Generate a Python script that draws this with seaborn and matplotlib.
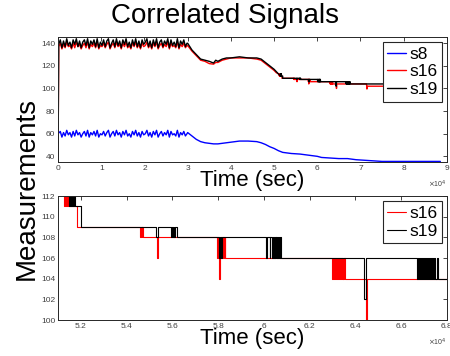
import numpy as np
import pandas as pd
import matplotlib
matplotlib.use('Agg')
import matplotlib.pyplot as plt
import seaborn as sns
from matplotlib.ticker import FuncFormatter

# --- data (time in seconds) ---
# noisy start (0 - 3e4 s)
s19_noise = [139, 143, 136, 142, 137, 144, 138, 141, 136, 143, 139, 144, 137, 142, 136, 141, 143, 138, 144, 136,
             142, 139, 143, 137, 144, 136, 141, 138, 143, 137, 142, 144, 136, 140, 143, 137, 144, 138, 142, 136,
             143, 139, 144, 137, 141, 136, 143, 138, 144, 137, 142, 136, 143, 139, 141, 144, 137, 142, 136, 143,
             138, 144, 136, 141, 143, 137, 142, 139, 144, 136, 143, 138, 141, 137, 144, 136, 142, 139, 143, 137, 140]
s16_noise = [137, 140, 135, 139, 136, 141, 137, 138, 135, 140, 136, 141, 137, 139, 135, 138, 140, 136, 141, 135,
             139, 137, 140, 136, 141, 135, 138, 137, 140, 136, 139, 141, 135, 138, 140, 136, 141, 137, 139, 135,
             140, 137, 141, 136, 138, 135, 140, 137, 141, 136, 139, 135, 140, 137, 138, 141, 136, 139, 135, 140,
             137, 141, 135, 138, 140, 136, 139, 137, 141, 135, 140, 137, 138, 136, 141, 135, 139, 137, 140, 136, 138]
s8_noise = [60, 62, 57, 61, 58, 63, 59, 61, 57, 62, 58, 63, 59, 61, 57, 60, 62, 58, 63, 57,
            61, 59, 62, 58, 63, 57, 60, 59, 62, 58, 61, 63, 57, 60, 62, 58, 63, 59, 61, 57,
            62, 59, 63, 58, 60, 57, 62, 59, 63, 58, 61, 57, 62, 59, 60, 63, 58, 61, 57, 62,
            59, 63, 57, 60, 62, 58, 61, 59, 63, 57, 62, 59, 60, 58, 63, 57, 61, 59, 62, 58, 60]

# s19 after the noisy start
s19_t = [30000, 31000, 32000, 33000, 34000, 35000, 36000, 36500, 37000, 38000, 39000,
         40000, 42000, 44000, 46000, 47000, 48000, 49000, 50000, 50500,
         51000, 51480, 51520, 51560, 51600, 51640, 51680, 51725, 51990, 52000,
         55260, 55300, 55350,
         55890, 55930, 55970, 56010, 56050, 56090, 56130, 56180,
         58010, 58050, 58090, 58120, 58160,
         60060, 60100, 60150, 60250, 60280, 60350, 60390, 60430, 60470, 60510, 60550,
         60590, 60630, 60670, 60710, 60760,
         64340, 64380, 64460,
         66660, 66700, 66740, 66780, 66820, 66860, 66900, 66950, 66990, 67030, 67080,
         67120, 67170, 67210, 67260, 67310, 67360, 67410, 67460, 67500, 67550, 67600,
         88500]
s19_v = [140, 134, 130, 126, 125, 124, 122.5, 125, 124, 126, 127,
         127, 128, 127, 127, 126, 123, 120, 117, 115,
         113, 111, 113, 111, 113, 111, 113, 111, 111, 109,
         109, 108, 109,
         109, 108, 109, 108, 109, 108, 109, 108,
         108, 106, 108, 106, 108,
         108, 106, 108, 106, 108, 106, 108, 106, 108, 106, 108,
         106, 108, 106, 108, 106,
         106, 102, 106,
         106, 104, 106, 104, 106, 104, 106, 104, 106, 104, 106,
         104, 106, 104, 106, 104, 106, 104, 106, 104, 106, 104,
         104]

# s16 after the noisy start
s16_t = [30000, 31000, 32000, 33000, 34000, 35000, 36000, 36500, 37000, 38000, 39000,
         40000, 42000, 44000, 46000, 47000, 48000, 49000, 50000, 50500,
         51000, 51260, 51300, 51340, 51380, 51420, 51830, 51840,
         54530, 54570, 54610, 54650, 54690, 54730,
         55280, 55320, 55360,
         57920, 57960, 58000, 58040, 58080, 58120, 58160, 58200, 58240, 58280, 58320,
         62960, 63000, 63040, 63080, 63120, 63160, 63200, 63240, 63280, 63320, 63360,
         63400, 63440, 63480, 63520, 63560,
         64410, 64450, 64530,
         71400, 71500, 71600, 88500]
s16_v = [138, 133, 129, 125, 124, 122, 121.5, 123, 123, 125, 126,
         127, 127, 127, 126, 125, 122, 119, 116, 114,
         113, 111, 113, 111, 113, 111, 111, 109,
         109, 108, 109, 108, 109, 108,
         108, 106, 108,
         108, 106, 108, 104, 106, 108, 106, 108, 106, 108, 106,
         106, 104, 106, 104, 106, 104, 106, 104, 106, 104, 106,
         104, 106, 104, 106, 104,
         104, 100, 104,
         104, 99.5, 102, 102]

# s8 after the noisy start
s8_t = [30000, 31000, 32000, 33000, 34000, 35000, 36000, 37000, 38000, 40000, 42000,
        44000, 46000, 47000, 48000, 49000, 50000, 51000, 52000, 54000, 56000, 58000,
        60000, 61000, 63000, 65000, 67000, 69000, 71000, 73000, 75000, 80000, 85000, 88500]
s8_v = [61, 58, 55, 53, 52, 51.5, 51, 51, 51.5, 52.5, 53.5,
        53.5, 53, 52, 50.5, 48.5, 47, 45, 43.5, 42.5, 42, 41,
        40, 39, 38.5, 38, 38, 37, 36.5, 36, 35.5, 35.5, 35.5, 35.5]

start_level = 35  # s16/s19 start from the bottom at t = 0


def build(noise, trend_t, trend_v, start=None):
    tn = np.linspace(150, 29850, len(noise))
    t = list(tn) + trend_t
    v = list(noise) + trend_v
    if start is not None:
        t = [0] + t
        v = [start] + v
    else:
        t[0] = 0
    return pd.DataFrame({'time': t, 'value': v})


df8 = build(s8_noise, s8_t, s8_v)
df16 = build(s16_noise, s16_t, s16_v, start_level)
df19 = build(s19_noise, s19_t, s19_v, start_level)

# --- figure ---
sns.set_style('white')
plt.rcParams['font.family'] = ['Liberation Sans', 'DejaVu Sans']
plt.rcParams['text.color'] = 'black'

fig = plt.figure(figsize=(4.5, 3.56), dpi=100)
ax1 = fig.add_axes([0.129, 0.545, 0.864, 0.351])
ax2 = fig.add_axes([0.129, 0.101, 0.864, 0.348])

kw_top = dict(estimator=None, sort=False, lw=1.0)
kw_bot = dict(estimator=None, sort=False, drawstyle='steps-post', lw=0.8)
sns.lineplot(data=df8, x='time', y='value', ax=ax1, color='#0000ff', label='s8', **kw_top)
sns.lineplot(data=df16, x='time', y='value', ax=ax1, color='#ff0000', label='s16', **kw_top)
sns.lineplot(data=df19, x='time', y='value', ax=ax1, color='#000000', label='s19', **kw_top)

sns.lineplot(data=df16, x='time', y='value', ax=ax2, color='#ff0000', label='s16', **kw_bot)
sns.lineplot(data=df19, x='time', y='value', ax=ax2, color='#000000', label='s19', **kw_bot)

ax1.set_xlim(0, 90000)
ax1.set_ylim(35, 145.5)
ax1.set_xticks(np.arange(0, 90001, 10000))
ax1.set_yticks(np.arange(40, 141, 20))

ax2.set_xlim(51000, 68000)
ax2.set_ylim(100, 112)
ax2.set_xticks(np.arange(52000, 68001, 2000))
ax2.set_yticks(np.arange(100, 113, 2))

fmt = FuncFormatter(lambda x, pos: '%g' % round(x / 1e4, 2))
for ax in (ax1, ax2):
    ax.xaxis.set_major_formatter(fmt)
    ax.tick_params(direction='in', top=True, right=True, length=3, width=0.6,
                   labelsize=6, colors='#262626', labelcolor='#404040', pad=2)
    for sp in ax.spines.values():
        sp.set_color('#262626')
        sp.set_linewidth(0.7)
    ax.set_ylabel('')
    ax.set_xlabel('Time (sec)', fontsize=16, labelpad=-1, color='#000000')
    ax.text(1.0, -0.135, r'$\times$10$^4$', transform=ax.transAxes, ha='right',
            va='top', fontsize=5, color='#404040')
    leg = ax.legend(loc='upper right', fontsize=12.5, frameon=True, fancybox=False,
                    edgecolor='#262626', framealpha=1, handlelength=1.1,
                    handletextpad=0.15, labelspacing=0.15, borderpad=0.25,
                    borderaxespad=0.3)
    leg.get_frame().set_linewidth(0.8)

fig.text(0.5, 0.918, 'Correlated Signals', ha='center', va='bottom', fontsize=20)
fig.text(0.06, 0.47, 'Measurements', rotation=90, ha='center', va='center', fontsize=20)

fig.savefig('out.png', dpi=100)
